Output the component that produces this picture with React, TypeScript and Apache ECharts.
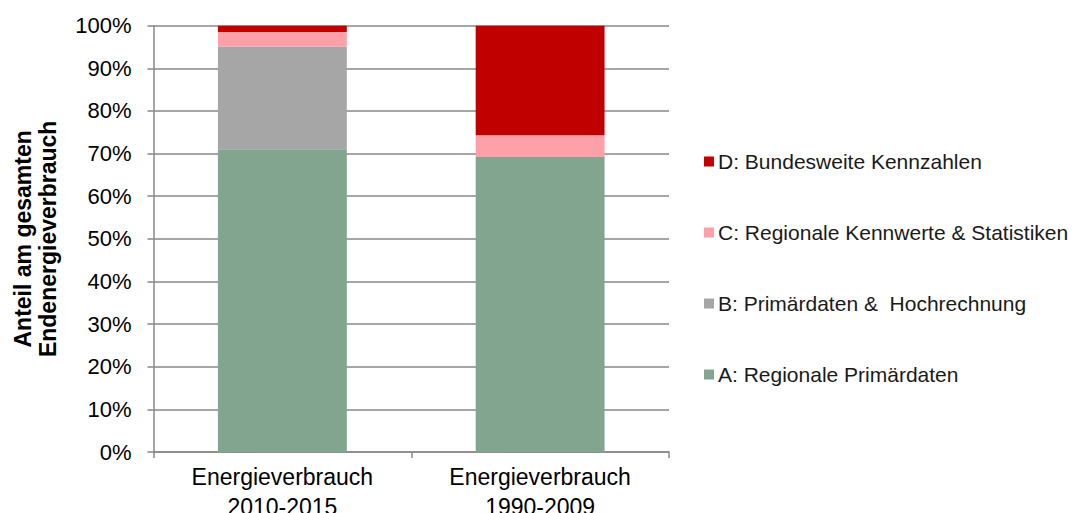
import React, { useEffect, useRef } from "react";
import * as echarts from "echarts";

const categories = ["Energieverbrauch\n2010-2015", "Energieverbrauch\n1990-2009"];
const seriesNames = [
  "A: Regionale Primärdaten",
  "B: Primärdaten &  Hochrechnung",
  "C: Regionale Kennwerte & Statistiken",
  "D: Bundesweite Kennzahlen",
];
const valuesA = [71.0, 69.2];
const valuesB = [24.1, 0];
const valuesC = [3.4, 5.1];
const valuesD = [1.5, 25.7];
const colors = ["#82A590", "#A6A6A6", "#FF9FA8", "#C00000"];
const legendOrder = [seriesNames[3], seriesNames[2], seriesNames[1], seriesNames[0]];

const FONT = "Liberation Sans, Arial, sans-serif";

export default function App() {
  const ref = useRef<HTMLDivElement>(null);
  useEffect(() => {
    if (!ref.current) return;
    const chart = echarts.init(ref.current, undefined, { renderer: "svg" });
    const all = [valuesA, valuesB, valuesC, valuesD];
    chart.setOption({
      animation: false,
      grid: {
        left: 153.5,
        top: 25.7,
        right: 408,
        bottom: 61,
        containLabel: false,
        outerBoundsMode: "none",
      },
      legend: {
        orient: "vertical",
        left: 704,
        top: 149.5,
        padding: 0,
        data: legendOrder,
        icon: "rect",
        itemWidth: 10,
        itemHeight: 10,
        itemGap: 47,
        textStyle: { fontFamily: FONT, fontSize: 21, color: "#1a1a1a", lineHeight: 24, padding: [0, 0, 0, -1] },
      },
      xAxis: {
        type: "category",
        data: categories,
        axisLine: { lineStyle: { color: "#888", width: 1.5 } },
        axisTick: { show: true, length: 6, alignWithLabel: false, lineStyle: { color: "#888", width: 1.5 } },
        axisLabel: { fontFamily: FONT, fontSize: 23, color: "#000", lineHeight: 30, margin: 10, interval: 0 },
      },
      yAxis: {
        type: "value",
        min: 0,
        max: 100,
        interval: 10,
        name: "Anteil am gesamten\nEndenergieverbrauch",
        nameLocation: "middle",
        nameRotate: 90,
        nameGap: 93,
        nameTextStyle: { fontFamily: FONT, fontSize: 23, fontWeight: "bold", color: "#000", lineHeight: 25 },
        axisLine: { show: true, lineStyle: { color: "#888", width: 1.5 } },
        axisTick: { show: true, length: 6, lineStyle: { color: "#888", width: 1.5 } },
        axisLabel: { fontFamily: FONT, fontSize: 22, color: "#000", margin: 22, formatter: "{value}%" },
        splitLine: { show: true, lineStyle: { color: "#888", width: 1.5 } },
      },
      series: seriesNames.map((name, i) => ({
        name,
        type: "bar",
        stack: "total",
        barWidth: "50%",
        data: all[i],
        itemStyle: { color: colors[i] },
      })),
    });
    return () => chart.dispose();
  }, []);
  return (
    <div
      ref={ref}
      style={{ position: "fixed", left: 0, top: 0, width: 1077, height: 513, background: "#fff" }}
    />
  );
}
